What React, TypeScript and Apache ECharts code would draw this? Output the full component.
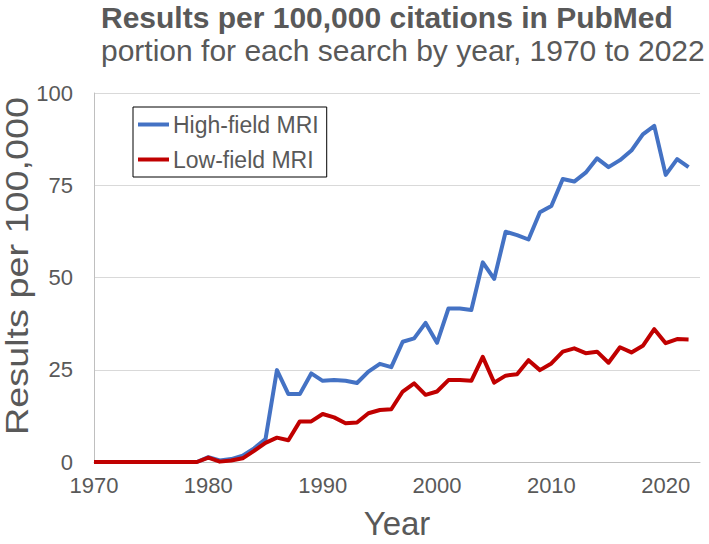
import React, { useEffect, useRef } from "react";
import * as echarts from "echarts";

const years: number[] = [];
for (let y = 1970; y <= 2022; y++) years.push(y);

const highField: number[] = [
  0, 0, 0, 0, 0, 0, 0, 0, 0, 0,
  1.3, 0.4, 0.8, 1.7, 3.7, 6.2, 24.9, 18.4, 18.4, 24.0,
  22.0, 22.2, 22.0, 21.4, 24.5, 26.6, 25.7, 32.6, 33.5, 37.7,
  32.3, 41.6, 41.6, 41.2, 54.1, 49.6, 62.4, 61.5, 60.3, 67.7,
  69.4, 76.7, 76.0, 78.4, 82.3, 79.9, 81.8, 84.4, 88.8, 91.1,
  77.8, 82.1, 79.9,
];

const lowField: number[] = [
  0, 0, 0, 0, 0, 0, 0, 0, 0, 0,
  1.2, 0.1, 0.4, 1.0, 3.0, 5.2, 6.6, 5.9, 11.0, 11.0,
  13.0, 12.1, 10.5, 10.7, 13.2, 14.1, 14.3, 19.1, 21.3, 18.2,
  19.1, 22.2, 22.2, 22.0, 28.5, 21.5, 23.4, 23.8, 27.6, 24.9,
  26.7, 29.9, 30.8, 29.5, 29.9, 26.9, 31.1, 29.7, 31.5, 36.0,
  32.2, 33.3, 33.2,
];

const seriesNames = ["High-field MRI", "Low-field MRI"];
const yTicks = [0, 25, 50, 75, 100];
const xTicks = [1970, 1980, 1990, 2000, 2010, 2020];

const titleText = "Results per 100,000 citations in PubMed";
const subtitleText = "portion for each search by year, 1970 to 2022";
const yAxisTitle = "Results per 100,000";
const xAxisTitle = "Year";

const FONT = "'Liberation Sans', Arial, Helvetica, sans-serif";
const GRAY = "#595959";

export default function App() {
  const ref = useRef<HTMLDivElement>(null);

  useEffect(() => {
    if (!ref.current) return;
    const chart = echarts.init(ref.current, undefined, { renderer: "svg" });
    const toPairs = (vals: number[]) => years.map((y, i) => [y, vals[i]]);
    chart.setOption({
      animation: false,
      backgroundColor: "#ffffff",
      textStyle: { fontFamily: FONT },
      title: {
        text: titleText,
        subtext: subtitleText,
        left: 101,
        top: 2,
        padding: 0,
        itemGap: 3,
        textStyle: { fontFamily: FONT, fontSize: 30, fontWeight: "bold", color: GRAY },
        subtextStyle: { fontFamily: FONT, fontSize: 30, color: GRAY },
      },
      legend: {
        orient: "vertical",
        left: 133,
        top: 107,
        padding: [6, 8, 6, 5],
        itemGap: 12,
        itemWidth: 31,
        itemHeight: 4,
        icon: "rect",
        borderColor: "#000000",
        borderWidth: 1,
        backgroundColor: "#ffffff",
        textStyle: { fontFamily: FONT, fontSize: 23, color: GRAY, padding: [0, 0, 0, -1] },
        data: seriesNames,
      },
      graphic: [
        {
          type: "text",
          x: 17,
          y: 266,
          rotation: Math.PI / 2,
          scaleX: 1.18,
          style: {
            text: yAxisTitle,
            fontFamily: FONT,
            fontSize: 32,
            fill: GRAY,
            align: "center",
            verticalAlign: "middle",
          },
        },
      ],
      grid: {
        left: 94,
        right: 9,
        top: 93,
        bottom: 82,
        containLabel: false,
        outerBoundsMode: "none",
      },
      xAxis: {
        type: "value",
        min: 1970,
        max: 2023,
        interval: 10,
        name: xAxisTitle,
        nameLocation: "middle",
        nameGap: 45,
        nameTextStyle: { fontFamily: FONT, fontSize: 33, color: GRAY },
        axisLine: { show: true, lineStyle: { color: "#bfbfbf", width: 1 } },
        axisTick: { show: false },
        splitLine: { show: false },
        axisLabel: {
          fontFamily: FONT,
          fontSize: 22,
          color: GRAY,
          margin: 12,
          showMaxLabel: false,
          formatter: (v: number) => (xTicks.includes(v) ? String(v) : ""),
        },
      },
      yAxis: {
        type: "value",
        min: 0,
        max: 100,
        interval: 25,
        axisLine: { show: true, lineStyle: { color: "#bfbfbf", width: 1 } },
        axisTick: { show: false },
        splitLine: { show: true, lineStyle: { color: "#d9d9d9", width: 1 } },
        axisLabel: {
          fontFamily: FONT,
          fontSize: 22,
          color: GRAY,
          margin: 21,
          formatter: (v: number) => (yTicks.includes(v) ? String(v) : ""),
        },
      },
      series: [
        {
          name: seriesNames[0],
          type: "line",
          data: toPairs(highField),
          symbol: "none",
          lineStyle: { color: "#4472C4", width: 4, join: "round" },
          itemStyle: { color: "#4472C4" },
          z: 2,
        },
        {
          name: seriesNames[1],
          type: "line",
          data: toPairs(lowField),
          symbol: "none",
          lineStyle: { color: "#C00000", width: 4, join: "round" },
          itemStyle: { color: "#C00000" },
          z: 3,
        },
      ],
    });
    return () => chart.dispose();
  }, []);

  return (
    <div
      ref={ref}
      style={{ position: "fixed", left: 0, top: 0, width: 709, height: 544, background: "#fff" }}
    />
  );
}
